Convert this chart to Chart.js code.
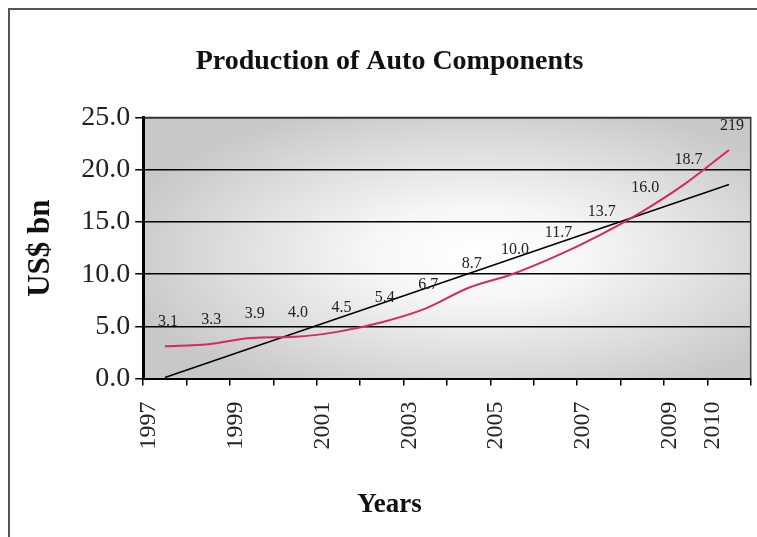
<!DOCTYPE html>
<html>
<head>
<meta charset="utf-8">
<script src="https://cdn.jsdelivr.net/npm/chart.js@4.4.1/dist/chart.umd.min.js"></script>
<style>
  html, body { margin: 0; padding: 0; background: #fff; }
  #wrap { width: 757px; height: 537px; }
</style>
</head>
<body>
<div id="wrap"><canvas id="chart" width="757" height="537"></canvas></div>
<script>
// data
const years = ['1997', '1998', '1999', '2000', '2001', '2002', '2003',
               '2004', '2005', '2006', '2007', '2008', '2009', '2010'];
const production = [3.1, 3.3, 3.9, 4.0, 4.5, 5.4, 6.7, 8.7, 10.0, 11.7, 13.7, 16.0, 18.7, 21.9];
// trend line end points as drawn in the original
const trendYears = ['1997', '2010'];
const trendValues = [0.1, 18.6];
const pointLabels = ['3.1', '3.3', '3.9', '4.0', '4.5', '5.4', '6.7', '8.7', '10.0', '11.7', '13.7', '16.0', '18.7', '219'];

const SERIF = '"Liberation Serif", "Times New Roman", serif';

// gray "from center" fill behind the plot + outer frame lines
const backdrop = {
  id: 'backdrop',
  beforeDraw(chart) {
    const { ctx, chartArea: a } = chart;
    ctx.save();
    ctx.strokeStyle = '#555';
    ctx.lineWidth = 2;
    ctx.beginPath();
    ctx.moveTo(9, chart.height);
    ctx.lineTo(9, 9);
    ctx.lineTo(chart.width, 9);
    ctx.stroke();

    const w = a.right - a.left, h = a.bottom - a.top;
    const cx = a.left + w * 0.55, cy = a.top + h * 0.52;
    ctx.fillStyle = '#c9c9c9';
    ctx.fillRect(a.left, a.top, w, h);
    ctx.beginPath();
    ctx.rect(a.left, a.top, w, h);
    ctx.clip();
    ctx.translate(cx, cy);
    ctx.scale(1, h / w);
    const g = ctx.createRadialGradient(0, 0, 0, 0, 0, w * 0.6);
    g.addColorStop(0, '#ffffff');
    g.addColorStop(0.3, '#f6f6f6');
    g.addColorStop(0.7, '#dcdcdc');
    g.addColorStop(1, '#c8c8c8');
    ctx.fillStyle = g;
    ctx.fillRect(-w, -w, 2 * w, 2 * w);
    ctx.restore();
  },
  afterDraw(chart) {
    const { ctx, chartArea: a } = chart;
    ctx.save();
    ctx.strokeStyle = '#333';
    ctx.lineWidth = 1.5;
    ctx.beginPath();
    ctx.moveTo(a.left, a.top);
    ctx.lineTo(a.right, a.top);
    ctx.lineTo(a.right, a.bottom);
    ctx.stroke();
    ctx.restore();
  }
};

// value labels above the red line
const valueLabels = {
  id: 'valueLabels',
  afterDatasetsDraw(chart) {
    const { ctx } = chart;
    const meta = chart.getDatasetMeta(0);
    ctx.save();
    ctx.font = '16px ' + SERIF;
    ctx.fillStyle = '#222';
    ctx.textAlign = 'center';
    ctx.textBaseline = 'bottom';
    meta.data.forEach((pt, i) => {
      ctx.fillText(pointLabels[i], pt.x + 3, pt.y - 16);
    });
    ctx.restore();
  }
};

new Chart(document.getElementById('chart'), {
  type: 'line',
  data: {
    labels: years,
    datasets: [{
      label: 'Production',
      data: production,
      borderColor: '#d42a5c',
      borderWidth: 2,
      pointRadius: 0,
      cubicInterpolationMode: 'monotone',
      fill: false
    }, {
      label: 'Trend',
      data: trendYears.map((y, i) => ({ x: y, y: trendValues[i] })),
      borderColor: '#000',
      borderWidth: 1.5,
      pointRadius: 0,
      tension: 0,
      fill: false
    }]
  },
  options: {
    responsive: false,
    animation: false,
    layout: { padding: { left: 22, right: 0, top: 30, bottom: 8 } },
    plugins: {
      legend: { display: false },
      tooltip: { enabled: false },
      title: {
        display: true,
        text: 'Production of Auto Components',
        color: '#111',
        font: { family: SERIF, size: 28, weight: 'bold' },
        padding: { top: 15, bottom: 39 }
      },
      subtitle: {
        display: true,
        position: 'bottom',
        text: 'Years',
        color: '#111',
        font: { family: SERIF, size: 27, weight: 'bold' },
        padding: { top: 23, bottom: 8 }
      }
    },
    scales: {
      x: {
        offset: true,
        grid: { drawOnChartArea: false, drawTicks: true, tickLength: 7, color: '#000', lineWidth: 1.5, offset: true },
        border: { color: '#000', width: 2 },
        ticks: {
          autoSkip: false,
          maxRotation: 90,
          minRotation: 90,
          color: '#222',
          padding: 16,
          labelOffset: -16,
          font: { family: SERIF, size: 24, lineHeight: 0.5 },
          callback(v, i) {
            return (i % 2 === 0 || i === years.length - 1) ? years[i] : '';
          }
        }
      },
      y: {
        min: 0,
        max: 25,
        grid: { color: '#000', lineWidth: 1.5, tickLength: 8 },
        border: { color: '#000', width: 3 },
        ticks: {
          stepSize: 5,
          color: '#222',
          padding: 5,
          font: { family: SERIF, size: 28 },
          callback: v => v.toFixed(1)
        },
        title: {
          display: true,
          text: 'US$ bn',
          color: '#111',
          font: { family: SERIF, size: 31, weight: 'bold' },
          padding: { top: 0, bottom: 17 }
        }
      }
    }
  },
  plugins: [backdrop, valueLabels]
});
</script>
</body>
</html>
